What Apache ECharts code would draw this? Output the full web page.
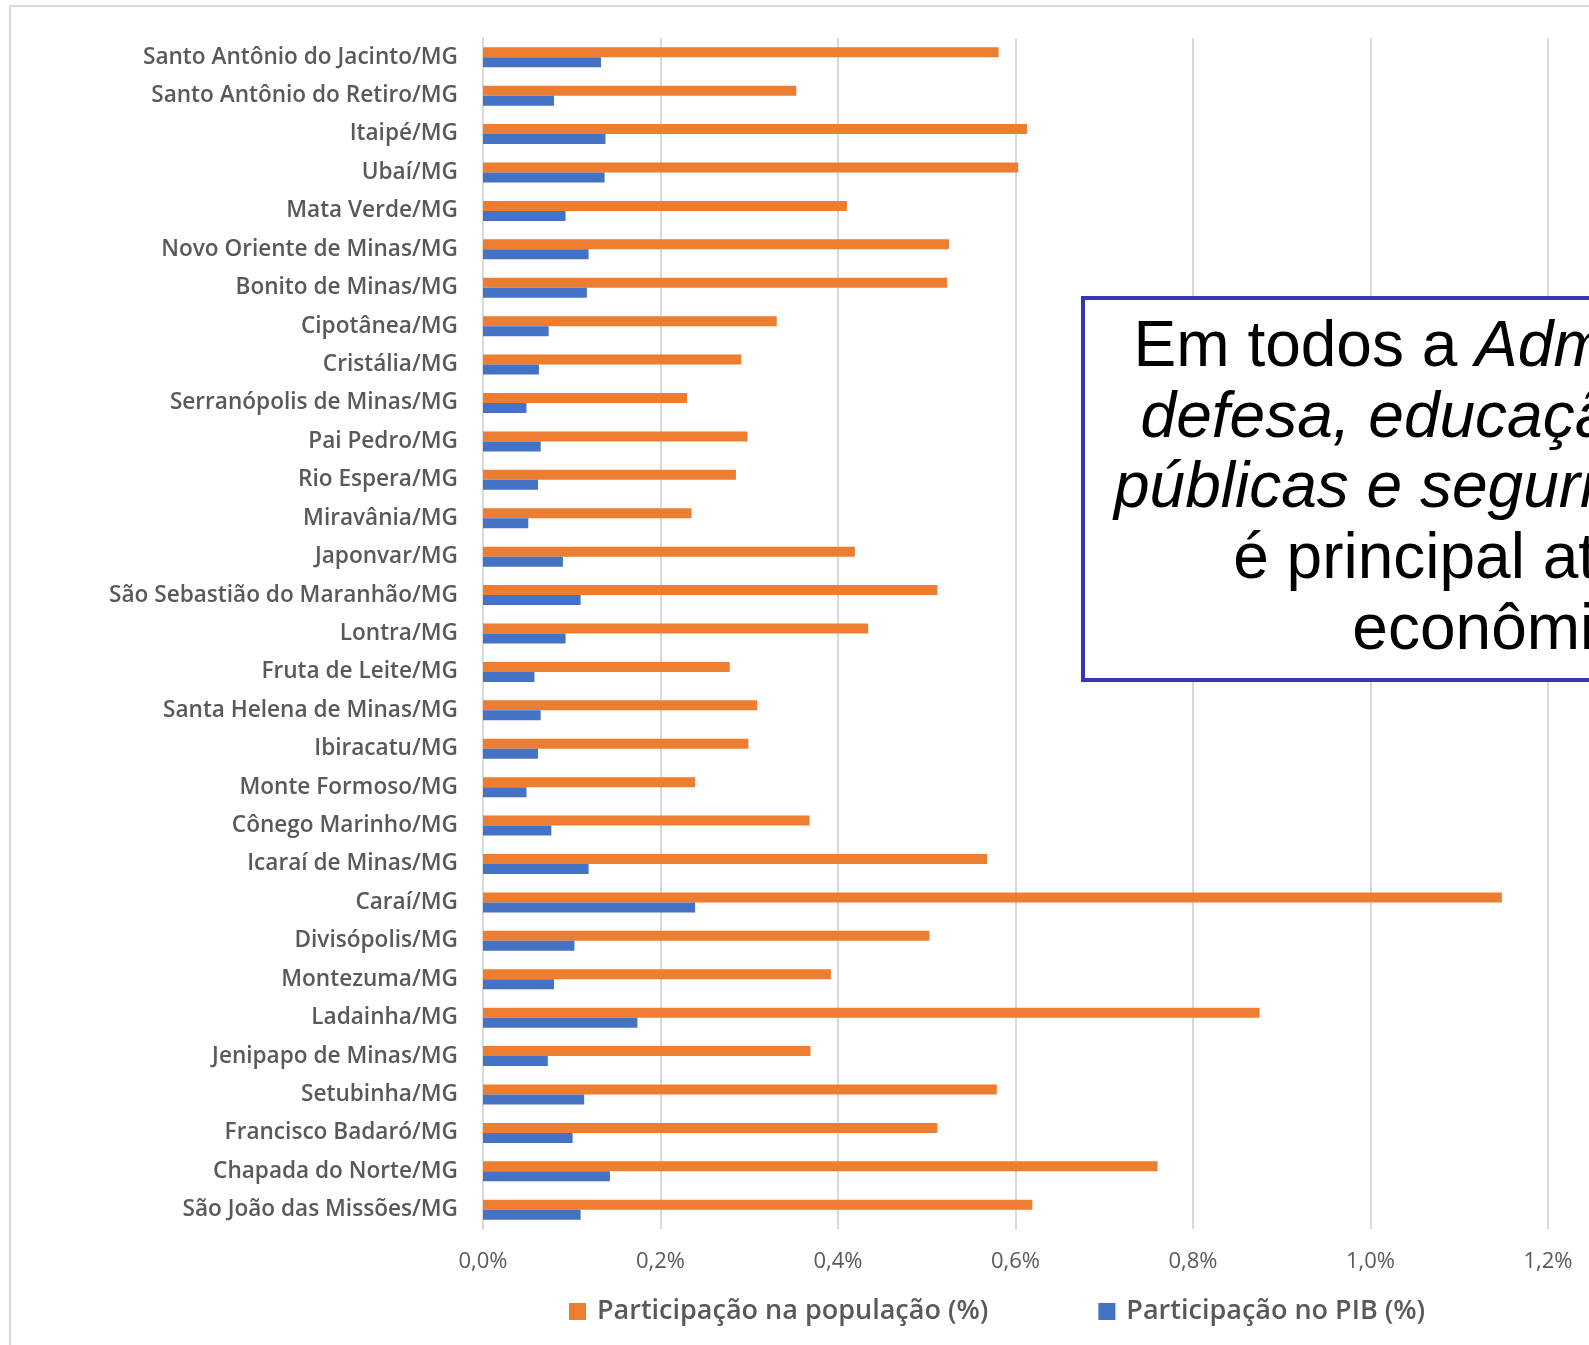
<!DOCTYPE html>
<html><head><meta charset="utf-8">
<script src="https://cdn.jsdelivr.net/npm/echarts@6/dist/echarts.min.js"></script>
<style>html,body{margin:0;padding:0;background:#fff}#c{width:1589px;height:1345px}</style>
</head><body><div id="c"></div>
<script>
const categories = ['Santo Antônio do Jacinto/MG','Santo Antônio do Retiro/MG','Itaipé/MG','Ubaí/MG','Mata Verde/MG','Novo Oriente de Minas/MG','Bonito de Minas/MG','Cipotânea/MG','Cristália/MG','Serranópolis de Minas/MG','Pai Pedro/MG','Rio Espera/MG','Miravânia/MG','Japonvar/MG','São Sebastião do Maranhão/MG','Lontra/MG','Fruta de Leite/MG','Santa Helena de Minas/MG','Ibiracatu/MG','Monte Formoso/MG','Cônego Marinho/MG','Icaraí de Minas/MG','Caraí/MG','Divisópolis/MG','Montezuma/MG','Ladainha/MG','Jenipapo de Minas/MG','Setubinha/MG','Francisco Badaró/MG','Chapada do Norte/MG','São João das Missões/MG'];
const populacao = [0.581,0.353,0.613,0.603,0.410,0.525,0.523,0.331,0.291,0.230,0.298,0.285,0.235,0.419,0.512,0.434,0.278,0.309,0.299,0.239,0.368,0.568,1.148,0.503,0.392,0.875,0.369,0.579,0.512,0.760,0.619];
const pib = [0.133,0.080,0.138,0.137,0.093,0.119,0.117,0.074,0.063,0.049,0.065,0.062,0.051,0.090,0.110,0.093,0.058,0.065,0.062,0.049,0.077,0.119,0.239,0.103,0.080,0.174,0.073,0.114,0.101,0.143,0.110];
const xTickLabels = ['0,0%','0,2%','0,4%','0,6%','0,8%','1,0%','1,2%'];
const seriesNames = ['Participação na população (%)','Participação no PIB (%)'];
const noteLines = [
  '{r|Em todos a }{i|Administração,}',
  '{i|defesa, educação e saúde}',
  '{i|públicas e seguridade social}',
  '{r|é principal atividade}',
  '{r|econômica.}'
];

const chart = echarts.init(document.getElementById('c'), null, {renderer:'canvas'});
const labelFont = '"Open Sans", "Noto Sans", sans-serif';
const noteGraphics = noteLines.map((t, i) => ({
  type: 'text', x: 1516, y: 348 + i * 70.8, z: 101,
  style: {
    text: t, align: 'center', verticalAlign: 'middle',
    rich: {
      r: {fontFamily: '"Liberation Sans", Arial, sans-serif', fontSize: 64, fill: '#000'},
      i: {fontFamily: '"Liberation Sans", Arial, sans-serif', fontSize: 64, fontStyle: 'italic', fill: '#000'}
    }
  }
}));

chart.setOption({
  animation: false,
  backgroundColor: '#ffffff',
  grid: {left: 483, right: 41, top: 38, bottom: 116, containLabel: false},
  legend: {
    left: 564, top: 1293, itemWidth: 17, itemHeight: 17, itemGap: 110, icon: 'rect',
    textStyle: {fontFamily: labelFont, fontSize: 27, fontWeight: 600, color: '#595959', padding: [0,0,0,6]},
    data: seriesNames
  },
  xAxis: {
    type: 'value', min: 0, max: 1.2, interval: 0.2,
    axisLine: {show: false}, axisTick: {show: false},
    splitLine: {lineStyle: {color: '#d9d9d9', width: 2}},
    axisLabel: {
      margin: 22, color: '#595959', fontFamily: labelFont, fontSize: 22,
      formatter: v => xTickLabels[Math.round(v / 0.2)]
    }
  },
  yAxis: {
    type: 'category', data: categories, inverse: true,
    axisLine: {lineStyle: {color: '#d9d9d9', width: 2}}, axisTick: {show: false},
    axisLabel: {margin: 25, color: '#595959', fontFamily: labelFont, fontSize: 22.6, fontWeight: 600}
  },
  series: [
    {name: seriesNames[0], type: 'bar', data: populacao, barWidth: 10, barGap: '0%', itemStyle: {color: '#ED7D31'}},
    {name: seriesNames[1], type: 'bar', data: pib, barWidth: 10, barGap: '0%', itemStyle: {color: '#4472C4'}}
  ],
  graphic: [
    {type: 'rect', shape: {x: 10, y: 6, width: 1700, height: 1400}, style: {fill: 'none', stroke: '#d9d9d9', lineWidth: 2}, z: 0, silent: true},
    {type: 'rect', shape: {x: 1083, y: 298, width: 900, height: 382}, style: {fill: '#ffffff', stroke: '#3535b5', lineWidth: 4}, z: 100}
  ].concat(noteGraphics)
});
</script></body></html>
